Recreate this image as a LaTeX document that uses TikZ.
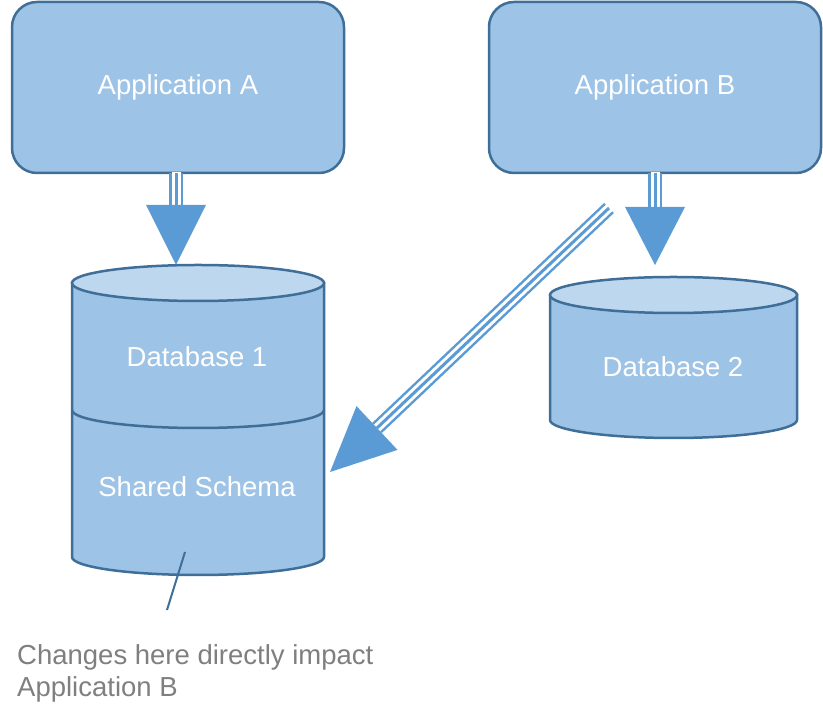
\documentclass[tikz,border=0pt]{standalone}
\usepackage{fontspec}
\setmainfont{Liberation Sans}
\usetikzlibrary{calc}
\definecolor{boxfill}{HTML}{9DC3E6}
\definecolor{boxedge}{HTML}{3F6E98}
\definecolor{topfill}{HTML}{BDD7EE}
\definecolor{arr}{HTML}{5B9BD5}
\definecolor{note}{HTML}{7F7F7F}
\tikzset{
  app/.style={draw=boxedge,line width=2.5pt,fill=boxfill,rounded corners=25pt,minimum width=332pt,minimum height=171pt,text=white,font=\fontsize{27.5}{32}\selectfont},
  lbl/.style={text=white,font=\fontsize{27.5}{32}\selectfont},
  cyl/.style={draw=boxedge,line width=2.5pt,fill=boxfill},
  cyltop/.style={draw=boxedge,line width=2.5pt,fill=topfill},
}
\newcommand\triarrow[3]{% start, head base, tip
  \draw[arr,line width=14pt] (#1) -- (#2);
  \draw[white,line width=9pt] ($(#1)!-1pt!(#2)$) -- ($(#2)!-1pt!(#1)$);
  \draw[arr,line width=3pt] (#1) -- (#2);
  \fill[arr] ($(#2)!30pt!90:(#3)$) -- (#3) -- ($(#2)!30pt!-90:(#3)$) -- cycle;
}
\begin{document}
\begin{tikzpicture}[x=1pt,y=1pt]
\useasboundingbox (0,0) rectangle (823,720);
\node[app] (A) at (178,632.5) {Application A};
\node[app] (B) at (655,632.5) {Application B};
% Database 1
\path[cyl] (72,437) -- (72,163) arc[start angle=180,end angle=360,x radius=126,y radius=18] -- (324,437) -- cycle;
\path[cyltop] (198,437) ellipse[x radius=126,y radius=18];
\draw[boxedge,line width=2.5pt] (72,310) arc[start angle=180,end angle=360,x radius=126,y radius=18];
\node[lbl] (db1) at (197,363) {Database 1};
\node[lbl] (sh) at (197,233) {Shared Schema};
% Database 2
\path[cyl] (550,425) -- (550,300) arc[start angle=180,end angle=360,x radius=123.5,y radius=18] -- (797,425) -- cycle;
\path[cyltop] (673.5,425) ellipse[x radius=123.5,y radius=18];
\node[lbl] (db2) at (673,353) {Database 2};
% arrows
\coordinate (a0) at (176,547); \coordinate (a1) at (176,515); \coordinate (a2) at (176,455);
\triarrow{a0}{a1}{a2}
\coordinate (b0) at (655,547); \coordinate (b1) at (655,513); \coordinate (b2) at (655,455);
\triarrow{b0}{b1}{b2}
\coordinate (c0) at (609,512); \coordinate (c1) at (377,292); \coordinate (c2) at (330,248);
\triarrow{c0}{c1}{c2}
% annotation
\coordinate (n0) at (185,168); \coordinate (n1) at (167,110);
\draw[boxedge,line width=2pt] (n0) -- (n1);
\node[text=note,font=\fontsize{27.5}{32}\selectfont,align=left,anchor=north west,inner sep=0pt] (note) at (17,76) {Changes here directly impact\\Application B};
\end{tikzpicture}
\end{document}
